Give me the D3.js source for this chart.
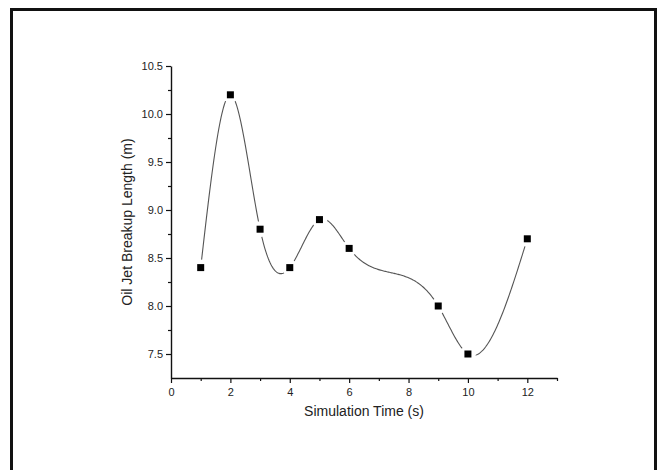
<!DOCTYPE html>
<html>
<head>
<meta charset="utf-8">
<script src="https://cdn.jsdelivr.net/npm/d3@7/dist/d3.min.js"></script>
<style>
  html, body { margin: 0; padding: 0; background: #fff; }
  svg { display: block; font-family: "Liberation Sans", Arial, sans-serif; }
  .tick text { font-size: 11px; fill: #222; }
  .axis-title { font-size: 14px; fill: #222; }
</style>
</head>
<body>
<svg id="chart" width="662" height="470"></svg>
<script>
// data
const times = [1, 2, 3, 4, 5, 6, 9, 10, 12];
const lengths = [8.4, 10.2, 8.8, 8.4, 8.9, 8.6, 8.0, 7.5, 8.7];
const xTicks = [0, 2, 4, 6, 8, 10, 12];
const yTicks = [7.5, 8.0, 8.5, 9.0, 9.5, 10.0, 10.5];

const svg = d3.select('#chart');
const W = 662, H = 470;

// outer frame (bottom edge falls outside the image)
svg.append('rect')
  .attr('x', 11.5).attr('y', 9.5)
  .attr('width', 644).attr('height', 480)
  .attr('fill', 'none').attr('stroke', '#111').attr('stroke-width', 3);

const margin = { left: 171, top: 66, right: 662 - 557, bottom: 470 - 378 };
const x = d3.scaleLinear().domain([0, 13]).range([margin.left, 557]);
const y = d3.scaleLinear().domain([7.25, 10.5]).range([378, margin.top]);

// natural cubic spline y(x) through the points
function naturalSpline(xs, ys) {
  const n = xs.length;
  const h = [], alpha = [0];
  for (let i = 0; i < n - 1; i++) h.push(xs[i + 1] - xs[i]);
  for (let i = 1; i < n - 1; i++)
    alpha.push(3 / h[i] * (ys[i + 1] - ys[i]) - 3 / h[i - 1] * (ys[i] - ys[i - 1]));
  const l = [1], mu = [0], z = [0];
  for (let i = 1; i < n - 1; i++) {
    l[i] = 2 * (xs[i + 1] - xs[i - 1]) - h[i - 1] * mu[i - 1];
    mu[i] = h[i] / l[i];
    z[i] = (alpha[i] - h[i - 1] * z[i - 1]) / l[i];
  }
  const c = new Array(n).fill(0), b = [], d = [];
  for (let j = n - 2; j >= 0; j--) {
    c[j] = (j === 0 ? 0 : z[j] - mu[j] * c[j + 1]);
    b[j] = (ys[j + 1] - ys[j]) / h[j] - h[j] * (c[j + 1] + 2 * c[j]) / 3;
    d[j] = (c[j + 1] - c[j]) / (3 * h[j]);
  }
  return function(t) {
    let i = 0;
    while (i < n - 2 && t > xs[i + 1]) i++;
    const dx = t - xs[i];
    return ys[i] + b[i] * dx + c[i] * dx * dx + d[i] * dx * dx * dx;
  };
}

const f = naturalSpline(times, lengths);
const samples = d3.range(0, 401).map(k => {
  const t = times[0] + (times[times.length - 1] - times[0]) * k / 400;
  return [t, f(t)];
});

// gaps in the line around each symbol
const defs = svg.append('defs');
const mask = defs.append('mask').attr('id', 'gap');
mask.append('rect').attr('width', W).attr('height', H).attr('fill', '#fff');
mask.selectAll('circle').data(times).join('circle')
  .attr('cx', (d) => x(d)).attr('cy', (d, i) => y(lengths[i]))
  .attr('r', 8).attr('fill', '#000');

svg.append('path')
  .datum(samples)
  .attr('d', d3.line().x(d => x(d[0])).y(d => y(d[1])))
  .attr('fill', 'none').attr('stroke', '#555').attr('stroke-width', 1.1)
  .attr('mask', 'url(#gap)');

svg.selectAll('.pt').data(times).join('rect')
  .attr('class', 'pt')
  .attr('x', d => x(d) - 3.5)
  .attr('y', (d, i) => y(lengths[i]) - 3.5)
  .attr('width', 7).attr('height', 7)
  .attr('fill', '#000');

// axes
const xAxis = svg.append('g').attr('transform', `translate(0,${y(7.25)})`)
  .call(d3.axisBottom(x).tickValues(xTicks).tickFormat(d3.format('d')).tickSize(5).tickSizeOuter(0));
svg.append('g').attr('transform', `translate(0,${y(7.25)})`)
  .call(d3.axisBottom(x).tickValues(d3.range(1, 14, 2)).tickFormat('').tickSize(3).tickSizeOuter(0))
  .select('.domain').remove();
const yAxis = svg.append('g').attr('transform', `translate(${x(0)},0)`)
  .call(d3.axisLeft(y).tickValues(yTicks).tickFormat(d3.format('.1f')).tickSize(5).tickSizeOuter(0));
svg.append('g').attr('transform', `translate(${x(0)},0)`)
  .call(d3.axisLeft(y).tickValues(yTicks.slice(0, -1).map(v => v + 0.25)).tickFormat('').tickSize(3).tickSizeOuter(0))
  .select('.domain').remove();

svg.selectAll('.domain').attr('stroke', '#111').attr('stroke-width', 1.4);
svg.selectAll('.tick line').attr('stroke', '#111').attr('stroke-width', 1.2);
xAxis.selectAll('.tick text').attr('dy', '0.85em').attr('y', 9);
yAxis.selectAll('.tick text').attr('x', -8);

svg.append('text').attr('class', 'axis-title')
  .attr('x', (x(0) + x(13)) / 2).attr('y', 416)
  .attr('text-anchor', 'middle')
  .text('Simulation Time (s)');
svg.append('text').attr('class', 'axis-title')
  .attr('transform', `translate(132,${(y(7.25) + y(10.5)) / 2}) rotate(-90)`)
  .attr('text-anchor', 'middle')
  .text('Oil Jet Breakup Length (m)');
</script>
</body>
</html>
